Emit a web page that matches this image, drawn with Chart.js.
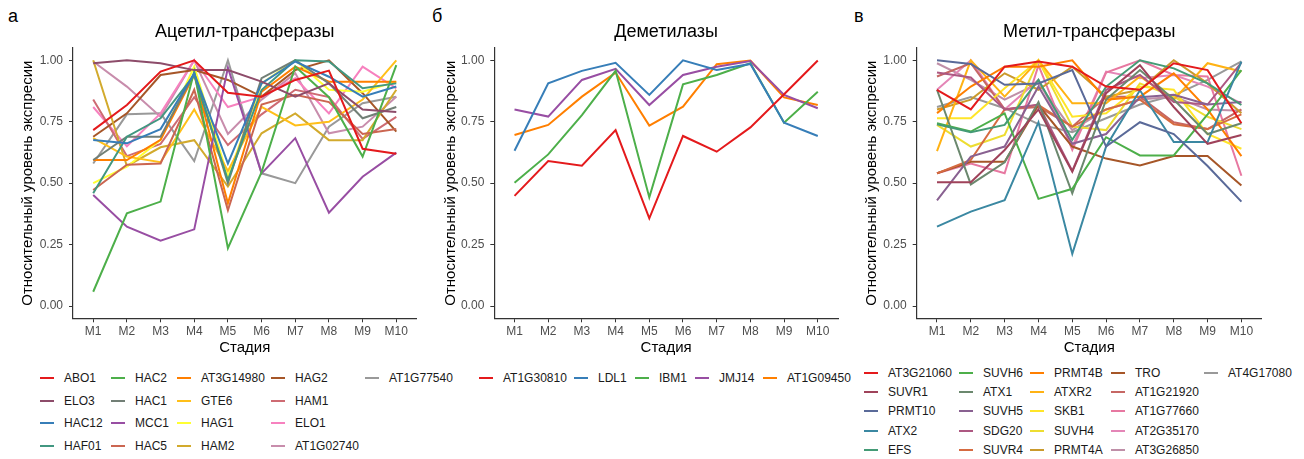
<!DOCTYPE html>
<html>
<head>
<meta charset="utf-8">
<script src="https://cdn.jsdelivr.net/npm/chart.js@4"></script>
<style>
  body { margin: 0; background: #fff; font-family: 'Liberation Sans', Arial, sans-serif; }
  #page { position: relative; width: 1304px; height: 459px; overflow: hidden; }
  canvas { position: absolute; top: 0; }
  .tag { position: absolute; top: 4px; font-size: 18px; line-height: 24px; color: #000; }
  .legend { position: absolute; display: grid; grid-auto-flow: column; font-size: 12px; color: #1a1a1a; }
  .legend .item { display: flex; align-items: center; white-space: nowrap; }
  .legend .key { display: inline-block; width: 14px; height: 2px; margin-right: 10px; }
</style>
</head>
<body>
<div id="page">
  <span class="tag" style="left:8px">а</span>
  <span class="tag" style="left:432px">б</span>
  <span class="tag" style="left:854px">в</span>
  <canvas id="chart-acetyl" width="430" height="360" style="left:0"></canvas>
  <canvas id="chart-demethyl" width="420" height="360" style="left:430px"></canvas>
  <canvas id="chart-methyl" width="454" height="360" style="left:850px"></canvas>
  <div class="legend" id="legend-acetyl" style="left:40px; top:367px; grid-template-rows: repeat(4, 22.6px); grid-template-columns: 71px 66px 94px 94px auto;"></div>
  <div class="legend" id="legend-demethyl" style="left:479px; top:367px; grid-template-rows: 22.6px; grid-template-columns: 95px 61px 60px 68px auto;"></div>
  <div class="legend" id="legend-methyl" style="left:864px; top:363px; grid-template-rows: repeat(5, 19.3px); grid-template-columns: 95px 71px 81px 93px auto;"></div>
</div>
<script>
    'use strict';

    const stages = ['M1', 'M2', 'M3', 'M4', 'M5', 'M6', 'M7', 'M8', 'M9', 'M10'];
    const yTicks = [0, 0.25, 0.5, 0.75, 1];

    // --- Ацетил-трансферазы ---
    const acetylGenes = ['ABO1', 'ELO3', 'HAC12', 'HAF01', 'HAC2', 'HAC1', 'MCC1', 'HAC5', 'AT3G14980',
        'GTE6', 'HAG1', 'HAM2', 'HAG2', 'HAM1', 'ELO1', 'AT1G02740', 'AT1G77540'];
    const acetylColors = ['#E41A1C', '#8D4C6A', '#377EB8', '#429781', '#4DAF4A', '#727F76', '#984EA3', '#CB6651', '#FF7F00',
        '#FFBF19', '#FFFF33', '#D2AA2D', '#A65628', '#CE6B73', '#F781BF', '#C88DAC', '#999999'];
    const acetylValues = [
        [0.716, 0.818, 0.954, 1.000, 0.868, 0.852, 0.920, 0.958, 0.640, 0.620], // ABO1
        [0.988, 1.000, 0.988, 0.960, 0.960, 0.913, 0.852, 0.906, 0.800, 0.790], // ELO3
        [0.676, 0.662, 0.720, 0.947, 0.580, 0.906, 0.995, 0.933, 0.852, 0.893], // HAC12
        [0.459, 0.689, 0.764, 0.940, 0.513, 0.879, 1.000, 0.995, 0.886, 0.906], // HAF01
        [0.058, 0.377, 0.425, 0.954, 0.235, 0.545, 0.975, 0.850, 0.608, 0.980], // HAC2
        [0.594, 0.689, 0.689, 0.947, 0.500, 0.927, 1.000, 0.906, 0.764, 0.810], // HAC1
        [0.452, 0.323, 0.266, 0.312, 0.970, 0.540, 0.683, 0.380, 0.526, 0.624], // MCC1
        [0.472, 0.575, 0.580, 0.880, 0.390, 0.820, 0.860, 0.830, 0.700, 0.720], // HAC5
        [0.594, 0.594, 0.676, 0.940, 0.418, 0.872, 0.974, 0.913, 0.913, 0.913], // AT3G14980
        [0.683, 0.608, 0.585, 0.800, 0.550, 0.810, 0.735, 0.750, 0.840, 1.000], // GTE6
        [0.500, 0.567, 0.676, 0.974, 0.526, 0.906, 1.000, 0.880, 0.872, 0.913], // HAG1
        [1.000, 0.570, 0.646, 0.675, 0.486, 0.703, 0.784, 0.675, 0.675, 0.880], // HAM2
        [0.689, 0.784, 0.940, 0.960, 0.920, 0.852, 0.960, 1.000, 0.866, 0.710], // HAG2
        [0.840, 0.610, 0.660, 0.850, 0.655, 0.780, 0.880, 0.850, 0.680, 0.770], // HAM1
        [0.810, 0.650, 0.784, 1.000, 0.810, 0.852, 0.927, 0.784, 0.974, 0.886], // ELO1
        [0.995, 0.893, 0.770, 1.000, 0.700, 0.840, 0.947, 0.703, 0.730, 0.852], // AT1G02740
        [0.580, 0.780, 0.784, 0.590, 1.000, 0.540, 0.500, 0.730, 0.825, 0.852]  // AT1G77540
    ];

    // --- Деметилазы ---
    const demethylGenes = ['AT1G30810', 'LDL1', 'IBM1', 'JMJ14', 'AT1G09450'];
    const demethylColors = ['#E41A1C', '#377EB8', '#4DAF4A', '#984EA3', '#FF7F00'];
    const demethylValues = [
        [0.448, 0.590, 0.571, 0.716, 0.357, 0.692, 0.628, 0.727, 0.862, 0.999], // AT1G30810
        [0.632, 0.906, 0.957, 0.990, 0.859, 1.000, 0.961, 0.985, 0.746, 0.692], // LDL1
        [0.502, 0.617, 0.777, 0.957, 0.442, 0.902, 0.940, 0.988, 0.746, 0.872], // IBM1
        [0.800, 0.771, 0.920, 0.965, 0.818, 0.940, 0.974, 0.997, 0.859, 0.805], // JMJ14
        [0.696, 0.737, 0.852, 0.950, 0.734, 0.811, 0.984, 0.999, 0.849, 0.818]  // AT1G09450
    ];

    // --- Метил-трансферазы ---
    const methylGenes = ['AT3G21060', 'SUVR1', 'PRMT10', 'ATX2', 'EFS', 'SUVH6', 'ATX1', 'SUVH5', 'SDG20',
        'SUVR4', 'PRMT4B', 'ATXR2', 'SKB1', 'SUVH4', 'PRMT4A', 'TRO', 'AT1G21920', 'AT1G77660',
        'AT2G35170', 'AT3G26850', 'AT4G17080'];
    const methylColors = ['#E41A1C', '#9F425A', '#5A6A99', '#3B88A2', '#449B76', '#4DAF4A', '#6B886E', '#896191', '#AD5882',
        '#D66B41', '#FF7F00', '#FFB214', '#FFE529', '#EDDD31', '#CA9A2C', '#A65628', '#C66764', '#E778A1',
        '#E486B7', '#BF8FA8', '#999999'];
    const methylValues = [
        [0.880, 0.800, 0.974, 0.995, 0.974, 0.893, 0.880, 0.988, 0.960, 0.744], // AT3G21060
        [0.504, 0.504, 0.635, 0.800, 0.547, 0.866, 0.980, 0.810, 0.660, 0.696], // SUVR1
        [1.000, 0.985, 0.900, 0.906, 0.960, 0.649, 0.748, 0.700, 0.570, 0.425], // PRMT10
        [0.323, 0.384, 0.431, 0.748, 0.212, 0.649, 0.878, 0.667, 0.667, 0.995], // ATX2
        [0.740, 0.707, 0.737, 0.920, 0.676, 0.893, 1.000, 0.967, 0.906, 0.818], // EFS
        [0.744, 0.710, 0.784, 0.436, 0.477, 0.687, 0.613, 0.613, 0.780, 0.960], // SUVH6
        [0.880, 0.495, 0.585, 0.830, 0.459, 0.840, 0.960, 0.840, 0.700, 0.744], // ATX1
        [0.430, 0.608, 0.649, 0.893, 0.660, 0.700, 0.850, 0.860, 0.820, 0.830], // SUVH5
        [0.950, 0.930, 0.800, 0.820, 0.550, 0.880, 0.940, 0.830, 0.820, 0.990], // SDG20
        [0.540, 0.594, 0.800, 0.818, 0.730, 0.800, 0.840, 0.740, 0.720, 0.780], // SUVR4
        [0.785, 0.893, 0.974, 0.974, 1.000, 0.840, 0.852, 0.947, 0.800, 0.610], // PRMT4B
        [0.630, 1.000, 0.852, 1.000, 0.825, 0.825, 0.934, 0.840, 0.988, 0.954], // ATXR2
        [0.764, 0.764, 0.886, 1.000, 0.770, 0.784, 0.893, 0.880, 0.700, 0.640], // SKB1
        [0.737, 0.649, 0.696, 1.000, 0.730, 0.716, 0.906, 0.852, 0.770, 0.720], // SUVH4
        [0.800, 0.840, 0.947, 0.880, 0.974, 0.852, 0.880, 1.000, 0.906, 0.784], // PRMT4A
        [0.540, 0.587, 0.587, 0.818, 0.649, 0.600, 0.572, 0.610, 0.610, 0.490], // TRO
        [0.934, 0.988, 0.800, 0.810, 0.730, 0.852, 0.852, 0.748, 0.720, 0.800], // AT1G21920
        [0.540, 0.580, 0.540, 0.980, 0.635, 0.950, 1.000, 0.940, 0.934, 0.530], // AT1G77660
        [0.880, 1.000, 0.800, 0.920, 0.649, 0.954, 0.927, 0.940, 0.893, 0.825], // AT2G35170
        [0.988, 0.920, 0.840, 0.906, 0.716, 0.800, 0.840, 0.852, 0.800, 0.795], // AT3G26850
        [0.810, 0.850, 0.805, 0.740, 0.707, 0.764, 0.820, 0.857, 0.920, 0.996]  // AT4G17080
    ];

    Chart.defaults.font.family = "'Liberation Sans', Arial, sans-serif";

    const axisColor = '#333333';
    const tickColor = '#4D4D4D';

    function makePanel(id, title, genes, colors, values, box) {
        const ctx = document.getElementById(id).getContext('2d');
        return new Chart(ctx, {
            type: 'line',
            data: {
                datasets: genes.map((gene, i) => ({
                    label: gene,
                    data: values[i].map((v, j) => ({ x: j + 1, y: v })),
                    borderColor: colors[i],
                    backgroundColor: colors[i],
                    borderWidth: 2,
                    pointRadius: 0,
                    tension: 0,
                    fill: false
                }))
            },
            options: {
                responsive: false,
                animation: false,
                events: [],
                layout: { padding: { left: 0, right: box.right, top: 0, bottom: 0 } },
                plugins: {
                    legend: { display: false },
                    tooltip: { enabled: false },
                    title: {
                        display: true,
                        text: title,
                        fullSize: false,
                        color: '#000',
                        font: { size: 18, weight: 'normal' },
                        padding: { top: 21, bottom: 5.4 }
                    }
                },
                scales: {
                    x: {
                        type: 'linear',
                        min: 0.4,
                        max: 10.6,
                        afterBuildTicks: s => { s.ticks = stages.map((_, i) => ({ value: i + 1 })); },
                        afterFit: s => { s.height = 41.7; },
                        ticks: {
                            callback: v => stages[v - 1],
                            color: tickColor,
                            font: { size: 12 },
                            padding: 2,
                            maxRotation: 0,
                            autoSkip: false
                        },
                        grid: { drawOnChartArea: false, tickLength: 4, color: axisColor },
                        border: { color: axisColor, width: 1.2 },
                        title: { display: true, text: 'Стадия', color: '#000', font: { size: 15 }, padding: { top: 0, bottom: 3 } }
                    },
                    y: {
                        min: -0.05,
                        max: 1.05,
                        afterBuildTicks: s => { s.ticks = yTicks.map(v => ({ value: v })); },
                        afterFit: s => { s.width = box.axisX; },
                        ticks: {
                            callback: v => v.toFixed(2),
                            color: tickColor,
                            font: { size: 12 },
                            padding: 6
                        },
                        grid: { drawOnChartArea: false, tickLength: 4, color: axisColor },
                        border: { color: axisColor, width: 1.2 },
                        title: {
                            display: true,
                            text: 'Относительный уровень экспресии',
                            color: '#000',
                            font: { size: 15 },
                            padding: { top: box.titleX - 9, bottom: 0 }
                        }
                    }
                }
            }
        });
    }

    function makeLegend(id, genes, colors) {
        const el = document.getElementById(id);
        el.innerHTML = genes.map((g, i) =>
            `<div class="item"><span class="key" style="background:${colors[i]}"></span>${g}</div>`
        ).join('');
    }

    makePanel('chart-acetyl', 'Ацетил-трансферазы', acetylGenes, acetylColors, acetylValues,
        { axisX: 73, titleX: 28.3, right: 13.5 });
    makePanel('chart-demethyl', 'Деметилазы', demethylGenes, demethylColors, demethylValues,
        { axisX: 64.3, titleX: 20.7, right: 12 });
    makePanel('chart-methyl', 'Метил-трансферазы', methylGenes, methylColors, methylValues,
        { axisX: 66.7, titleX: 21.7, right: 42.3 });

    makeLegend('legend-acetyl', acetylGenes, acetylColors);
    makeLegend('legend-demethyl', demethylGenes, demethylColors);
    makeLegend('legend-methyl', methylGenes, methylColors);
</script>
</body>
</html>
